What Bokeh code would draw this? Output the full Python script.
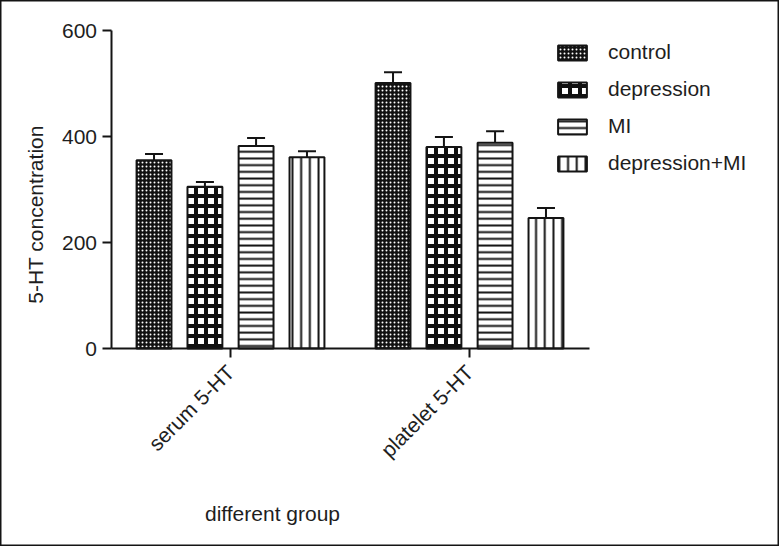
import math
from bokeh.plotting import figure
from bokeh.models import (ColumnDataSource, Range1d, FixedTicker, Whisker, TeeHead,
                          Legend, LegendItem, Label)
from bokeh.transform import dodge
from bokeh.embed import file_html
from bokeh.resources import INLINE

groups = ["serum 5-HT", "platelet 5-HT"]
series = ["control", "depression", "MI", "depression+MI"]
control = [355, 501]
control_err = [12, 20]
depression = [305, 380]
depression_err = [9, 19]
mi = [382, 388]
mi_err = [15, 22]
dep_mi = [361, 246]
dep_mi_err = [11, 19]
y_ticks = [0, 200, 400, 600]

FONT = "Liberation Sans"
TXT = "#1e1e1e"
INK = "#141414"

values = [control, depression, mi, dep_mi]
errors = [control_err, depression_err, mi_err, dep_mi_err]
offsets = [-0.32, -0.107, 0.107, 0.32]
group_idx = list(range(len(groups)))

W, H = 779, 546
# layout: frame covers the whole canvas, axes are pinned in data space
PX_X = 239.0          # pixels per group
X0_PX = 230.0         # pixel position of first group
PX_Y = 318.0 / 600    # pixels per unit
Y0_PX = 348.0         # pixel position of y = 0

p = figure(width=W, height=H,
           x_range=Range1d(-X0_PX / PX_X, (W - X0_PX) / PX_X),
           y_range=Range1d(-(H - Y0_PX) / PX_Y, Y0_PX / PX_Y),
           output_backend="svg", toolbar_location=None, tools="")
p.min_border = 0
p.outline_line_color = INK
p.outline_line_width = 2
p.xgrid.grid_line_color = None
p.ygrid.grid_line_color = None

for ax in (p.xaxis[0], p.yaxis[0]):
    ax.axis_line_width = 2
    ax.axis_line_color = INK
    ax.major_tick_line_width = 2
    ax.major_tick_line_color = INK
    ax.major_tick_in = 0
    ax.major_tick_out = 9
    ax.minor_tick_line_color = None
    ax.major_label_text_font = FONT
    ax.major_label_text_font_size = "21px"
    ax.major_label_text_color = TXT

p.yaxis.ticker = FixedTicker(ticks=y_ticks)
p.yaxis.bounds = (y_ticks[0], y_ticks[-1])
p.yaxis.fixed_location = -0.5
p.yaxis.major_label_standoff = 5

p.xaxis.ticker = FixedTicker(ticks=group_idx)
p.xaxis.major_label_overrides = {i: g for i, g in zip(group_idx, groups)}
p.xaxis.bounds = (-0.5, len(groups) - 0.5)
p.xaxis.fixed_location = 0
p.xaxis.major_label_orientation = math.pi / 4
p.xaxis.major_label_standoff = 11

hatch_specs = [
    dict(fill_color="#111111", hatch_pattern="dot", hatch_color="white",
         hatch_scale=4, hatch_weight=1),
    dict(fill_color="white", hatch_pattern="cross", hatch_color="#111111",
         hatch_scale=10, hatch_weight=4),
    dict(fill_color="white", hatch_pattern="horizontal_line", hatch_scale=6.7,
         hatch_weight=2, hatch_color=INK),
    dict(fill_color="white", hatch_pattern="vertical_line", hatch_scale=8.7,
         hatch_weight=2, hatch_color=INK),
]

items = []
for name, vals, errs, off, hs in zip(series, values, errors, offsets, hatch_specs):
    src = ColumnDataSource(dict(idx=group_idx, top=vals,
                                upper=[v + e for v, e in zip(vals, errs)]))
    r = p.vbar(x=dodge("idx", off), top="top", bottom=0, width=0.146,
               source=src, line_color=INK, line_width=2, **hs)
    w = Whisker(base=dodge("idx", off), lower="top", upper="upper",
                source=src, dimension="height", line_color=INK, line_width=2,
                lower_head=None, upper_head=TeeHead(size=18, line_color=INK, line_width=2),
                level="overlay")
    p.add_layout(w)
    items.append(LegendItem(label=name, renderers=[r]))

legend = Legend(items=items, location=(554, H - 175), glyph_width=36, glyph_height=19,
                label_height=19, spacing=13, label_standoff=18, padding=0, margin=0,
                border_line_color=None, background_fill_alpha=0,
                label_text_font=FONT, label_text_font_size="21px", label_text_color=TXT)
p.add_layout(legend)

p.add_layout(Label(x=35, y=H - 214, x_units="screen", y_units="screen",
                   text="5-HT concentration", angle=math.pi / 2,
                   text_align="center", text_baseline="middle",
                   text_font=FONT, text_font_size="21px", text_color=TXT))
p.add_layout(Label(x=272, y=H - 513, x_units="screen", y_units="screen",
                   text="different group", text_align="center", text_baseline="middle",
                   text_font=FONT, text_font_size="21px", text_color=TXT))

open("out.html", "w").write(file_html(p, INLINE))
